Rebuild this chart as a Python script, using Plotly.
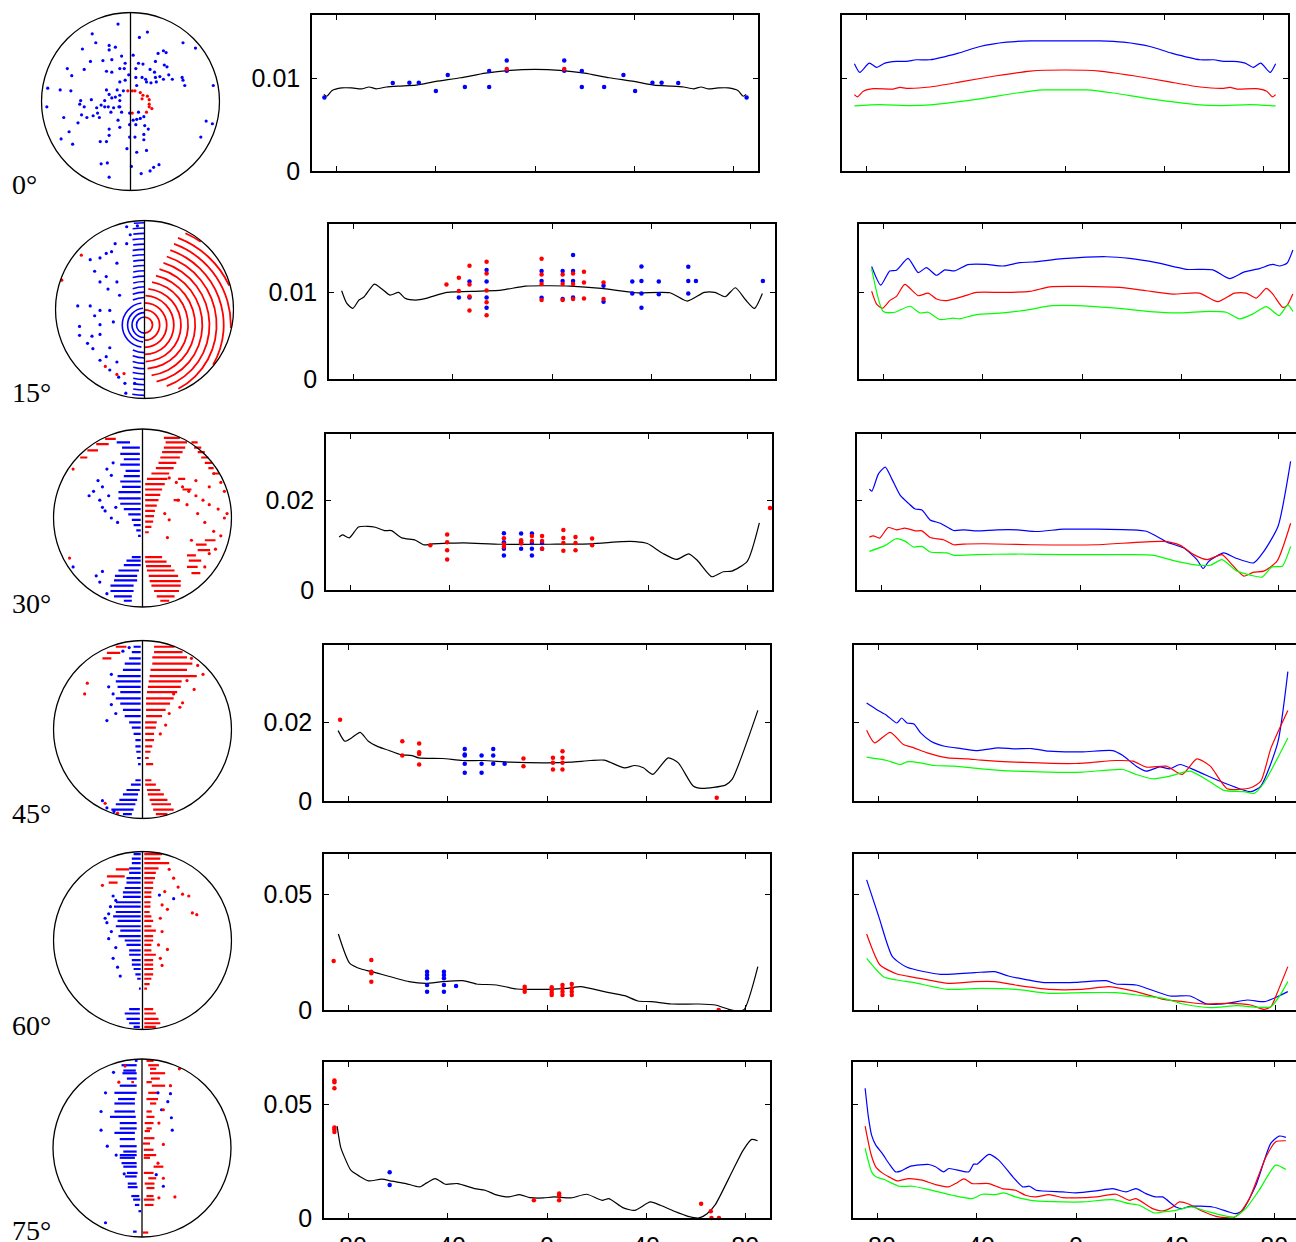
import plotly.graph_objects as go

W, H = 1296, 1242

# ---------------- tick / label values ----------------
TICKS_X = [-80, -40, 0, 40, 80]
TICK_TEXT_X = ["-80", "-40", "0", "40", "80"]
ROW_LABELS = ["0°", "15°", "30°", "45°", "60°", "75°"]
Y_MAX = [0.0169, 0.0179, 0.0347, 0.0395, 0.0674, 0.0686]
Y_TICK = [0.01, 0.01, 0.02, 0.02, 0.05, 0.05]
Y_TICK_TEXT = ["0.01", "0.01", "0.02", "0.02", "0.05", "0.05"]

# ---------------- column 2: fitted curve (black) ----------------
fit0_x = [-85.2,-84,-82,-78,-74,-70,-67,-64,-60,-55,-48,-40,-30,-20,-10,0,10,20,30,40,48,55,60,64,67,70,74,78,82,84,85.2]
fit0_y = [.0083,.0081,.0087,.0090,.0090,.0089,.0091,.0089,.0091,.0092,.0093,.0097,.0101,.0106,.0109,.0110,.0109,.0106,.0101,.0097,.0093,.0092,.0091,.0089,.0091,.0089,.0090,.0090,.0087,.0081,.0083]
fit1_x = [-84.9,-82.8,-80.4,-77.9,-75.8,-71.7,-68.9,-65.4,-61.9,-59.2,-55,-50.8,-42.5,-28.8,-20.4,-10.7,-1,7.4,19.9,33.8,47.6,54.6,61.5,65.7,69.9,74,78.2,81.7,84.9]
fit1_y = [.0102,.00873,.00815,.00912,.0095,.01096,.01046,.00969,.0100,.00931,.00912,.00931,.0100,.01015,.01027,.01073,.01077,.01073,.01046,.00996,.00996,.0090,.0100,.0100,.0095,.01054,.00912,.00815,.00988]
fit2_x = [-84.7,-83.3,-80.6,-76.9,-73.1,-70.1,-66.4,-63.6,-59.4,-53.9,-50.4,-47,-40,-34.4,-19.2,0.3,16.9,29.4,35,39.7,46,51.5,56.4,59.9,65.7,70.3,73.8,80,84.9]
fit2_y = [.01181,.01225,.01159,.01402,.01417,.01395,.01321,.01321,.01159,.01107,.01004,.01026,.01041,.01048,.01018,.01018,.01026,.01077,.01077,.01033,.00812,.00679,.00804,.00657,.00295,.00406,.00421,.00635,.01491]
fit3_x = [-84.3,-81.6,-78.9,-75.4,-72.1,-68,-64,-59.1,-54.5,-51.8,-42.2,-34.1,-25.8,-14.9,0,9.5,17.7,23.1,31.3,35.3,38.9,42.7,48.9,53,59,62.5,72,74.7,85.1]
fit3_y = [.01782,.01513,.01597,.01739,.01513,.0137,.01286,.01176,.01151,.01092,.01076,.01025,.01025,.00983,.00966,.00983,.01025,.01034,.0084,.00899,.0084,.00672,.01092,.00966,.00378,.00319,.00403,.00546,.02294]
fit4_x = [-84.2,-79.6,-74.7,-70.7,-55.7,-48.9,-42.2,-34,-28.5,-20.4,-12.2,-6.8,0,8.2,13.6,23.1,31.3,36.7,42.1,50.3,61.1,67.9,73.4,76.5,79.6,85.1]
fit4_y = [.03285,.02017,.01758,.01657,.01225,.01153,.01225,.01268,.01124,.01081,.00908,.00893,.00893,.00937,.01009,.00793,.0062,.00389,.0036,.00259,.00259,.00216,.00029,-.0004,.00029,.01873]
fit5_x = [-84.7,-83.3,-81.9,-79.2,-75.7,-72,-66.7,-62.5,-56.9,-51.4,-48.6,-45.1,-41,-36.1,-29.2,-25,-20.8,-15.3,-11.1,-6.9,-1.4,2.8,9.7,16,22.2,25,30.6,35.4,41.7,45.8,51.4,56.9,61.1,64.6,68,75,79.2,82.6,85]
fit5_y = [.04044,.03132,.02721,.02103,.01838,.01632,.01706,.01618,.01515,.01368,.01544,.01735,.01485,.01515,.01294,.01221,.01029,.00926,.01029,.00897,.00882,.00926,.00882,.01044,.00779,.00853,.00456,.00338,.00706,.00559,.00294,.00074,0,.00191,.00603,.02103,.02985,.03456,.03397]

# ---------------- column 2: measured points ----------------
pts0_blue_x = [-85.0,-57.4,-50.7,-46.9,-40.0,-35.2,-28.3,-18.5,-18.5,-11.4,-11.4,11.8,11.8,18.9,18.9,27.9,35.7,40.4,47.4,51.1,57.8,85.4]
pts0_blue_y = [.00795,.00953,.00957,.00957,.00867,.01040,.00910,.00910,.01083,.01198,.01086,.01198,.01086,.01083,.00910,.00910,.01040,.00867,.00957,.00957,.00953,.00795]
pts0_red_x = [-11.4, 11.8]
pts0_red_y = [.01104, .01104]

pts1_red_x = [-42.6,-37.6,-37.6,-33.3,-33.3,-33.3,-33.3,-26.4,-26.4,-26.4,-26.4,-26.4,-4.2,-4.2,-4.2,-4.2,4.3,4.3,4.3,8.5,8.5,8.5,12.9,12.9,12.9,20.8,20.8]
pts1_red_y = [.01092,.01169,.01015,.01308,.01092,.00954,.00792,.01354,.01219,.01023,.00885,.00735,.01388,.01208,.01096,.00912,.01208,.01096,.00912,.01219,.01096,.00923,.01238,.01115,.00931,.01115,.00923]
pts1_blue_x = [-37.6,-33.3,-33.3,-26.4,-26.4,-26.4,-26.4,-4.2,-4.2,-4.2,4.3,4.3,4.3,8.5,8.5,8.5,8.5,20.8,20.8,32.4,32.4,36.1,36.1,36.1,36.1,43.1,43.1,55,55,55,58.1,85.1]
pts1_blue_y = [.00942,.01127,.00942,.01258,.01127,.00942,.00823,.01246,.01131,.00938,.01246,.01131,.00925,.01431,.01246,.01131,.00942,.01077,.00892,.01127,.00988,.013,.01131,.00988,.00823,.01127,.0098,.01296,.01131,.00988,.01131,.01131]

pts2_red_x = [-47.9,-41.1,-41.1,-41.1,-41.1,-18.2,-18.2,-18.2,-11.25,-11.25,-6.9,-6.9,-2.8,-2.8,-2.8,5.8,5.8,5.8,5.8,10.7,10.7,10.7,17.4,17.4,89.2]
pts2_red_y = [.00996,.01232,.01063,.00886,.00679,.01151,.01018,.0096,.01107,.01033,.01203,.01092,.01203,.01092,.00915,.01336,.01159,.01048,.00871,.01181,.01048,.00886,.01144,.00996,.01823]
pts2_blue_x = [-18.2,-18.2,-18.2,-18.2,-11.25,-11.25,-11.25,-6.9,-6.9,-6.9,-6.9,-2.8,-2.8]
pts2_blue_y = [.01262,.01063,.00915,.00768,.01255,.01063,.00915,.01255,.01048,.00915,.00768,.01048,.00915]

pts3_red_x = [-83.5,-58.4,-58.4,-51.6,-51.6,-51.6,-51.6,-9.5,-9.5,2.4,2.4,2.4,6.25,6.25,6.25,6.25,68.5]
pts3_red_y = [.02059,.01513,.01151,.01454,.01235,.01193,.00924,.01076,.00882,.01092,.00966,.00798,.0126,.01092,.00966,.00798,.00084]
pts3_blue_x = [-33.2,-33.2,-33.2,-33.2,-33.2,-26.4,-26.4,-26.4,-21.7,-21.7,-21.7,-17.1]
pts3_blue_y = [.01319,.01176,.01151,.00941,.00714,.01151,.00941,.00714,.01319,.01151,.00941,.00941]

pts4_red_x = [-86.1,-70.9,-70.9,-70.9,-70.9,-9,-9,-9,1.9,1.9,1.9,1.9,6.25,6.25,6.25,6.25,10,10,10,10,69.3]
pts4_red_y = [.02118,.02161,.01657,.01585,.01225,.01009,.00893,.00793,.0098,.00865,.00749,.00648,.01081,.00937,.00793,.00648,.01124,.00937,.00793,.00648,0.0]
pts4_blue_x = [-48.4,-48.4,-48.4,-48.4,-48.4,-41.6,-41.6,-41.6,-41.6,-41.6,-36.7]
pts4_blue_y = [.01657,.01513,.01369,.01081,.00793,.01657,.01513,.01369,.01081,.00793,.01037]

pts5_red_x = [-85.8,-85.8,-85.8,-85.8,-85.8,-85.8,-5.3,4.9,4.9,4.9,62.2,66.1,66.4,69.4]
pts5_red_y = [.06044,.05971,.05706,.03985,.03897,.03779,.00779,.01074,.00985,.00779,.00632,.00294,0.0,0.0]
pts5_blue_x = [-63.5,-63.5]
pts5_blue_y = [.02015,.01456]

# ---------------- column 3: three curves ----------------
c3_0_blue_x = [-85,-82.8,-79,-76,-72.7,-68,-64,-60,-54.5,-43,-34.3,-23.6,-14,0,14,23.6,34.3,43,54.5,60,64,68,72.7,76,79,82.8,85]
c3_0_blue_y = [.01162,.01068,.01169,.01122,.01169,.01187,.01187,.01205,.01205,.01277,.01349,.01396,.0141,.0141,.0141,.01396,.01349,.01277,.01205,.01205,.01187,.01187,.01169,.01122,.01169,.01068,.01162]
c3_0_red_x = [-85,-83.8,-81.4,-77.4,-69.3,-66.6,-64,-54.5,-41,-27.6,-14,0,14,27.6,41,54.5,64,66.6,69.3,77.4,81.4,83.8,85]
c3_0_red_y = [.00827,.00802,.00863,.00892,.00888,.00906,.00896,.0091,.00971,.01032,.01083,.01094,.01083,.01032,.00971,.0091,.00896,.00906,.00888,.00892,.00863,.00802,.00827]
c3_0_green_x = [-85,-74.7,-62.6,-53,-34.3,-19.5,-8.7,0,8.7,19.5,34.3,53,62.6,74.7,85]
c3_0_green_y = [.00705,.0072,.00709,.0072,.00781,.00845,.00878,.00878,.00878,.00845,.00781,.0072,.00709,.0072,.00705]

c3_1_blue_x = [-84.9,-81.2,-77.6,-74.9,-70.2,-66.1,-62.8,-58.7,-55.4,-51.4,-46,-38.6,-31.9,-25.1,-19.8,-7.7,9.8,19.2,30,42.1,52.8,59.5,65.6,71.6,77,79.7,82.7,85.1]
c3_1_blue_y = [.013,.01084,.01248,.01256,.01393,.01229,.01286,.01198,.0126,.01248,.01321,.01324,.01305,.01344,.01351,.01389,.01412,.01393,.01344,.01267,.0126,.0116,.01237,.01275,.01324,.01305,.01336,.01489]
c3_1_red_x = [-84.9,-82.9,-80.5,-77.6,-74.9,-71.5,-66.1,-62.1,-58.7,-54.7,-48,-42.6,-31.9,-21.1,-13,0.4,15.2,25.9,36.7,47.4,54.8,61.6,66.3,70.3,74.4,77,81,82.7,85.1]
c3_1_red_y = [.01015,.00866,.00817,.00905,.00954,.01092,.00962,.00992,.00924,.00905,.00954,.01,.01,.01011,.01065,.01069,.01057,.01019,.00981,.00992,.00893,.00992,.00992,.00935,.01046,.00981,.00828,.00847,.00981]
c3_1_green_x = [-84.9,-80.2,-75.5,-69.4,-65.4,-62.1,-57.4,-52,-49.3,-42.6,-31.9,-21.1,-13,-2.3,12.5,27.3,38,51.5,58.2,63.6,69,74.4,79.6,83.1,85.1]
c3_1_green_y = [.01275,.00779,.00771,.0084,.00763,.00771,.00687,.00702,.00695,.00744,.00763,.00802,.00844,.00847,.00821,.00779,.00763,.00782,.00771,.00695,.00752,.00836,.00733,.00855,.00779]

c3_2_blue_x = [-85,-84,-81.3,-78.6,-76,-72.6,-69.2,-66.5,-63.8,-60.5,-56.4,-51,-47,-41.6,-33.5,-25.4,-17.4,-6.6,6.9,20.3,27.1,35.1,41.9,47.2,49.7,52,58,62.7,70.1,74.2,79.9,85]
c3_2_blue_y = [.02243,.02199,.02588,.02735,.02478,.0211,.01926,.01801,.01779,.01559,.01485,.01324,.01338,.01316,.01338,.01338,.01301,.01353,.01353,.01338,.01301,.01066,.00934,.00676,.00478,.0064,.00824,.00713,.00603,.0086,.01412,.0286]
c3_2_red_x = [-85,-83.4,-80.9,-77.4,-74,-70.7,-66.5,-63.8,-60.5,-55.1,-51,-47,-38.9,-20.1,6.9,33.8,40.5,45.9,51.3,57.3,60.7,66.1,70.1,74.2,79.5,85]
c3_2_red_y = [.01176,.01206,.01154,.0139,.01338,.01375,.01316,.01316,.01169,.01118,.01007,.01022,.01029,.01007,.01007,.01081,.00993,.00787,.00676,.00787,.00603,.00309,.00397,.00419,.0064,.01485]
c3_2_green_x = [-85,-78.6,-74.2,-70.5,-67.2,-63.8,-60.5,-53.8,-50.8,-41.6,-26.8,-6.6,20.3,29.7,37.8,45.9,52.6,57.3,63.4,68.8,73.5,77.5,81.6,85]
c3_2_green_y = [.0086,.00993,.0114,.01081,.00956,.00971,.00846,.00824,.00772,.00787,.00801,.00787,.00787,.00772,.00654,.00566,.00551,.00676,.00419,.00331,.00287,.00515,.00529,.00971]

c3_3_blue_x = [-84.9,-80.8,-76.8,-72.7,-70.8,-68.6,-65.8,-63.1,-59,-53.5,-46.7,-40,-31.8,-25,-18.2,-11.4,2.2,14.4,18.5,23.9,28,33.4,37.5,41.6,48.4,59.2,70.1,74.2,81,85.1]
c3_3_blue_y = [.02479,.02311,.02168,.01975,.02101,.01975,.0195,.01723,.01513,.01387,.01328,.01277,.01345,.0132,.01328,.01261,.01244,.01277,.01151,.00882,.00756,.00866,.00815,.00924,.00756,.00462,.00235,.00378,.01471,.03277]
c3_3_red_x = [-84.9,-81.7,-75.4,-70,-65.8,-60.4,-52.2,-44.1,-38.6,-25,-0.5,15.8,22.6,28,36.1,42.4,48.4,53.8,60.6,70.1,74.2,78.3,85.1]
c3_3_red_y = [.0179,.01471,.01739,.01429,.01345,.01218,.01092,.01067,.01034,.00983,.0095,.01025,.01008,.00857,.00882,.00672,.01067,.00882,.00311,.00336,.00504,.01345,.02294]
c3_3_green_x = [-84.9,-76.8,-71.3,-68.6,-63.1,-57.7,-49.5,-38.6,-25,-11.4,2.2,18.5,23.9,30.7,37.5,45.7,53.8,59.2,67.4,71.5,75.5,85.1]
c3_3_green_y = [.01109,.01025,.00924,.00992,.00966,.00899,.00882,.00815,.00756,.00731,.00731,.00798,.00672,.00563,.0063,.00756,.00479,.00269,.00235,.00193,.00462,.01597]

c3_4_blue_x = [-84.9,-80,-74.5,-68.6,-55,-41.3,-33.2,-27.7,-14.1,-0.5,11.7,15.8,23.9,37.5,45.7,52.4,60.6,68.8,75.5,81,85.1]
c3_4_blue_y = [.0562,.04035,.02305,.01844,.01542,.01614,.01657,.0147,.01196,.01196,.01268,.01124,.01081,.00605,.00605,.00259,.00288,.00432,.0036,.00576,.00793]
c3_4_red_x = [-84.9,-79.5,-72.7,-65.8,-52.2,-41.3,-33.2,-25,-11.4,2.2,13,23.9,34.8,42.9,51.1,60.6,70.1,75.5,78.3,81,85.1]
c3_4_red_y = [.03285,.01945,.01556,.01412,.01153,.01225,.01225,.01081,.00893,.00893,.01009,.00793,.00461,.0036,.00259,.00288,.00216,.00029,.00144,.00793,.01873]
c3_4_green_x = [-84.9,-78.1,-72.7,-65.8,-52.2,-38.6,-25,-11.4,2.2,15.8,23.9,34.8,42.9,53.8,64.7,72.8,78.3,82.4,85.1]
c3_4_green_y = [.02233,.01441,.01297,.01182,.00893,.00937,.00893,.0072,.00749,.00749,.00648,.00504,.00259,.00101,.00187,.00115,.00144,.0072,.01225]

c3_5_blue_x = [-85.1,-83.8,-82.5,-80.8,-78.2,-75.5,-72.8,-70.8,-66.7,-59.4,-56.7,-53.4,-51.3,-43.3,-41.3,-39.9,-35.2,-31.2,-25.5,-21.5,-18.8,-16.1,-5.4,0,8.1,14.8,20.2,24.2,28.2,32.3,35,40.3,43,45.7,55.1,61.8,64.5,67.2,72.6,78.6,82,84.7]
c3_5_blue_y = [.05706,.04456,.03647,.03206,.02838,.02397,.02029,.02059,.02279,.02353,.0225,.02029,.02176,.02029,.02368,.02368,.02794,.02544,.01809,.01368,.01397,.01221,.01147,.01103,.01191,.01294,.01147,.01294,.01074,.00926,.00926,.00485,.00412,.00515,.00485,.00265,.00191,.00338,.01441,.03279,.03603,.03544]
c3_5_red_x = [-85.1,-82.8,-80.8,-78.2,-75.5,-72.2,-67.5,-62.1,-56.7,-51.3,-48.6,-45.2,-41.9,-35.2,-29.8,-24.4,-20.4,-16.4,-10.9,-5.4,0,8.1,16.1,21.5,24.2,30.9,35,39,41.7,45.7,51.1,56.5,63.2,65.9,70,76.7,80.6,84.7]
c3_5_red_y = [.04044,.02838,.0225,.01985,.01809,.01632,.01735,.01662,.01471,.01368,.01515,.01721,.01515,.01515,.01294,.01221,.01,.00926,.01029,.00897,.00882,.00926,.01044,.00779,.00853,.00412,.00309,.00485,.00706,.00603,.00294,.00074,0,.00191,.00853,.02691,.03353,.03397]
c3_5_green_x = [-85.1,-82.5,-80.8,-77.4,-71.4,-66,-59.4,-49.9,-41.9,-37.8,-32.5,-29.1,-24.4,-21.8,-16.4,-5.4,2.7,14.8,21.5,25.5,31.6,35,40.3,46.4,52.4,59.1,63.8,68.5,73.9,80.6,84.7]
c3_5_green_y = [.03059,.02029,.01809,.01691,.01397,.01397,.0125,.01,.00853,.01044,.01029,.01103,.00926,.00853,.0075,.00706,.00706,.00809,.00632,.00559,.00221,.00265,.00338,.00485,.00309,.00118,.00044,.00412,.01221,.02324,.02132]

# ---------------- column 1: pole figures (unit-circle coordinates) ----------------
p0_blue_x = [-0.14,0.19,-0.43,0.10,-0.39,0.59,0.73,-0.24,-0.17,-0.54,
             -0.24,0.37,0.40,-0.10,0.03,0.31,-0.45,-0.21,-0.31,-0.06,
             0.09,0.14,0.28,0.38,-0.71,-0.52,-0.27,-0.12,-0.21,-0.07,
             0.06,0.22,0.27,0.41,0.43,-0.66,-0.02,0.06,0.13,0.17,
             0.28,0.33,0.37,0.47,0.58,0.59,-0.12,-0.06,0.18,0.23,
             0.29,0.61,0.93,-0.93,-0.79,-0.67,-0.27,-0.15,-0.24,0.07,
             -0.21,-0.17,-0.29,-0.56,-0.44,-0.57,-0.52,-0.29,-0.25,-0.19,
             -0.13,-0.33,-0.38,-0.55,-0.49,-0.42,-0.37,-0.22,-0.01,0.09,
             0.15,-0.94,-0.75,-0.59,-0.35,-0.14,0.03,0.07,0.11,-0.12,
             -0.01,0.06,0.16,0.20,0.85,0.92,-0.69,-0.78,-0.65,-0.24,
             -0.24,-0.01,0.05,0.15,-0.34,-0.27,0.15,0.79,-0.04,0.07,
             0.18,-0.33,-0.26,0.01,-0.24,0.12,0.22,0.26,0.32,-0.12,
             -0.12,-0.12,-0.10,-0.08]
p0_blue_y = [0.87,0.78,0.76,0.72,0.66,0.66,0.60,0.63,0.61,0.59,
             0.58,0.57,0.55,0.51,0.52,0.54,0.45,0.47,0.46,0.43,
             0.43,0.42,0.45,0.41,0.37,0.36,0.34,0.37,0.33,0.37,
             0.37,0.36,0.33,0.39,0.30,0.29,0.30,0.27,0.27,0.25,
             0.27,0.28,0.25,0.25,0.27,0.24,0.22,0.24,0.22,0.21,
             0.22,0.18,0.18,0.15,0.13,0.12,0.13,0.13,0.08,0.18,
             0.04,0.05,0.01,0.01,0.02,-0.03,-0.06,-0.06,-0.06,-0.07,
             -0.06,-0.04,-0.07,-0.15,-0.18,-0.16,-0.13,-0.12,-0.13,-0.12,
             -0.17,-0.06,-0.18,-0.24,-0.18,-0.21,-0.21,-0.20,-0.19,-0.29,
             -0.26,-0.26,-0.27,-0.31,-0.22,-0.25,-0.34,-0.42,-0.48,-0.31,
             -0.38,-0.40,-0.40,-0.37,-0.45,-0.45,-0.43,-0.40,-0.53,-0.57,
             -0.55,-0.70,-0.69,-0.73,-0.85,-0.81,-0.78,-0.74,-0.71,0.07,
             0.01,-0.06,-0.12,0.12]
p0_red_x = [-0.03,0.02,0.05,0.11,0.14,0.13,0.19,0.21,0.21,0.21,0.24,0.18,0.02]
p0_red_y = [0.12,0.12,0.12,0.10,0.07,0.03,0.06,0.02,-0.03,-0.06,-0.08,-0.12,-0.13]

# 15 deg: arcs around the tilted pole (radius, start angle, end angle)
P1_POLE = (0.0, -0.175)
arc1_red_rho = [0.09,0.17,0.25,0.33,0.41,0.49,0.57,0.65,0.73,0.81,0.89,0.97,1.05,1.13]
arc1_red_t0 = [-90,-90,-90,-90,-88,-86,-82,-78,-70,-62,-30,-2,25,56]
arc1_red_t1 = [90,90,90,88,84,80,77,75,73,72,71,70,69,66]
arc1_blue_rho = [0.09,0.14,0.19,0.25,0.31,0.37,0.43,0.49,0.55,0.61,0.67,0.73,0.79,0.85,0.91,0.97,1.03,1.09,1.15,
                 0.31,0.37,0.43,0.49,0.55,0.61,0.67,0.73,0.79]
arc1_blue_t0 = [90,92,95,98,90,90,90,90,90,90,90,90,90,90,90,90,90,90,90,
                245,249,252,255,256,258,259,260,260]
arc1_blue_t1 = [270,268,265,262,115,111,108,105,104,102,101,100,100,99,98,98,97,97,96,
                270,270,270,270,270,270,270,270,270]
p1_blue_x = [-0.20,-0.08,-0.16,-0.33,-0.20,-0.43,-0.37,-0.61,-0.50,-0.31,-0.56,-0.43,-0.50,-0.31,-0.41,-0.28,-0.75,-0.61,-0.50,-0.39,
             -0.56,-0.73,-0.35,-0.50,-0.73,-0.59,-0.50,-0.64,-0.58,-0.39,-0.43,-0.50,-0.31,-0.39,-0.29,-0.22,-0.11,-0.21]
p1_blue_y = [0.93,0.94,0.84,0.74,0.74,0.63,0.65,0.56,0.58,0.52,0.43,0.37,0.31,0.31,0.23,0.16,0.04,0.04,-0.01,-0.01,
             -0.07,-0.19,-0.14,-0.17,-0.29,-0.30,-0.28,-0.38,-0.44,-0.43,-0.53,-0.57,-0.59,-0.68,-0.76,-0.83,-0.83,-0.94]
p1_red_x = [-0.93,-0.71,-0.44,-0.31,-0.23]
p1_red_y = [0.33,0.61,-0.64,-0.73,-0.72]

# 30-75 deg: dash rows (y, x_start, x_end) and isolated points
seg2_red = [(0.90,0.24,0.42),(0.85,0.26,0.50),(0.85,0.55,0.62),(0.79,0.24,0.48),(0.79,0.58,0.66),(0.74,0.22,0.45),(0.74,0.62,0.70),
            (0.68,0.20,0.42),(0.68,0.66,0.74),(0.62,0.18,0.38),(0.62,0.70,0.78),(0.56,0.15,0.35),(0.56,0.74,0.80),(0.50,0.10,0.30),(0.50,0.80,0.86),
            (0.44,0.05,0.28),(0.44,0.40,0.48),(0.38,0.03,0.25),(0.32,0.03,0.22),(0.32,0.45,0.55),(0.26,0.03,0.20),(0.20,0.03,0.18),
            (0.20,0.35,0.42),(0.14,0.03,0.16),(0.08,0.03,0.14),(0.02,0.03,0.13),(-0.04,0.03,0.12),(-0.10,0.03,0.10),(-0.16,0.03,0.07),
            (-0.44,0.03,0.22),(-0.49,0.03,0.27),(-0.54,0.04,0.32),(-0.59,0.05,0.36),(-0.65,0.07,0.40),(-0.71,0.08,0.43),(-0.76,0.10,0.43),
            (-0.82,0.13,0.41),(-0.88,0.16,0.36),(-0.93,0.20,0.30),(-0.30,0.60,0.72),(-0.36,0.62,0.76),(-0.42,0.50,0.60),(-0.48,0.52,0.66),
            (-0.55,0.50,0.62),(-0.62,0.55,0.65),(-0.25,0.70,0.82),(0.89,-0.42,-0.30),(0.83,-0.52,-0.38),(0.76,-0.62,-0.50),(0.68,-0.70,-0.62)]
seg2_blue = [(0.85,-0.29,-0.14),(0.79,-0.23,-0.03),(0.72,-0.25,-0.03),(0.66,-0.21,-0.03),(0.60,-0.25,-0.03),(0.53,-0.19,-0.03),
             (0.47,-0.21,-0.03),(0.41,-0.25,-0.02),(0.35,-0.23,-0.02),(0.29,-0.27,-0.02),(0.22,-0.27,-0.02),(0.16,-0.25,-0.02),
             (0.10,-0.21,-0.02),(0.04,-0.16,-0.02),(-0.02,-0.12,-0.02),(-0.08,-0.10,-0.02),(-0.14,-0.07,-0.02),(-0.20,-0.05,-0.02),
             (-0.44,-0.12,-0.02),(-0.48,-0.18,-0.02),(-0.53,-0.21,-0.02),(-0.59,-0.27,-0.04),(-0.65,-0.31,-0.06),(-0.70,-0.32,-0.06),
             (-0.76,-0.36,-0.10),(-0.82,-0.36,-0.10),(-0.88,-0.32,-0.12),(-0.93,-0.21,-0.12)]
p2_red_x = [0.30,0.38,0.45,0.52,0.60,0.68,0.75,0.85,0.92,0.95,0.40,0.50,0.25,0.30,0.62,0.70,0.80,0.88,0.28,0.55,0.88,0.92,0.80,0.75,0.60,-0.78,-0.82,0.70,0.75,0.82]
p2_red_y = [0.45,0.40,0.35,0.30,0.25,0.20,0.15,0.10,0.00,0.05,0.20,0.15,0.05,-0.02,0.05,-0.05,-0.15,-0.20,-0.22,-0.25,0.40,0.30,0.50,0.35,0.42,0.55,-0.45,-0.55,-0.40,-0.35]
p2_blue_x = [-0.40,-0.35,-0.45,-0.55,-0.38,-0.48,-0.30,-0.42,-0.35,-0.28,-0.50,-0.33,-0.60,-0.45,-0.45,-0.48,-0.40,-0.78,-0.52]
p2_blue_y = [0.55,0.48,0.35,0.30,0.25,0.20,0.12,0.08,0.00,-0.05,0.42,0.62,0.25,0.12,-0.60,-0.72,-0.85,-0.55,-0.65]

seg3_red = [(0.93,0.13,0.36),(0.87,0.13,0.45),(0.81,0.11,0.50),(0.74,0.11,0.56),(0.67,0.09,0.50),(0.60,0.08,0.61),(0.54,0.07,0.44),
            (0.48,0.06,0.43),(0.42,0.05,0.39),(0.35,0.04,0.35),(0.29,0.04,0.31),(0.22,0.04,0.26),(0.15,0.04,0.22),(0.08,0.03,0.16),
            (0.02,0.03,0.15),(-0.05,0.03,0.13),(-0.12,0.03,0.13),(-0.19,0.03,0.11),(-0.25,0.03,0.09),(-0.32,0.03,0.07),(-0.39,0.04,0.12),
            (0.93,-0.30,-0.18),(0.86,-0.40,-0.25),(0.80,-0.45,-0.35),
            (-0.57,0.03,0.10),(-0.62,0.03,0.15),(-0.68,0.05,0.20),(-0.73,0.06,0.24),(-0.79,0.08,0.28),(-0.84,0.10,0.32),(-0.90,0.12,0.35),(-0.95,0.15,0.28)]
seg3_blue = [(0.93,-0.10,-0.02),(0.87,-0.12,-0.02),(0.80,-0.15,-0.02),(0.74,-0.20,-0.02),(0.67,-0.22,-0.02),(0.60,-0.28,-0.02),(0.54,-0.30,-0.02),
             (0.48,-0.28,-0.02),(0.42,-0.25,-0.02),(0.35,-0.30,-0.02),(0.29,-0.25,-0.02),(0.22,-0.22,-0.02),(0.15,-0.20,-0.02),(0.08,-0.15,-0.02),
             (0.02,-0.12,-0.02),(-0.05,-0.10,-0.02),(-0.12,-0.08,-0.02),(-0.19,-0.08,-0.02),(-0.25,-0.07,-0.02),(-0.32,-0.06,-0.02),(-0.39,-0.05,-0.02),
             (-0.57,-0.08,-0.02),(-0.62,-0.13,-0.02),(-0.68,-0.18,-0.03),(-0.73,-0.22,-0.05),(-0.79,-0.26,-0.06),(-0.84,-0.30,-0.08),(-0.90,-0.35,-0.10),(-0.95,-0.22,-0.12)]
p3_red_x = [0.55,0.62,0.68,0.42,0.35,0.45,0.50,0.58,0.30,-0.62,-0.65,-0.42,-0.28,0.26,0.20]
p3_red_y = [0.80,0.72,0.62,0.25,0.40,0.30,0.55,0.45,0.18,0.52,0.40,-0.83,-0.94,0.05,-0.05]
p3_blue_x = [-0.35,-0.38,-0.33,-0.30,-0.35,-0.22,-0.15,-0.45,-0.40,-0.32,-0.40]
p3_blue_y = [0.62,0.48,0.40,0.18,0.28,0.88,0.92,-0.80,-0.88,-0.92,0.10]

seg4_blue = [(0.97,-0.10,-0.02),(0.92,-0.12,-0.02),(0.87,-0.12,-0.02),(0.81,-0.15,-0.02),(0.76,-0.15,-0.02),(0.70,-0.18,-0.02),(0.65,-0.18,-0.02),
             (0.59,-0.20,-0.02),(0.54,-0.22,-0.02),(0.49,-0.22,-0.02),(0.43,-0.30,-0.02),(0.38,-0.32,-0.02),(0.32,-0.30,-0.02),(0.27,-0.33,-0.02),
             (0.22,-0.28,-0.02),(0.16,-0.30,-0.02),(0.11,-0.25,-0.02),(0.05,-0.27,-0.02),(0.00,-0.20,-0.02),(-0.05,-0.18,-0.02),(-0.11,-0.15,-0.02),
             (-0.16,-0.15,-0.02),(-0.22,-0.12,-0.02),(-0.27,-0.12,-0.02),(-0.32,-0.10,-0.02),(-0.38,-0.08,-0.02),(-0.43,-0.06,-0.02),(-0.54,-0.04,-0.02),
             (-0.77,-0.15,-0.03),(-0.82,-0.20,-0.03),(-0.88,-0.18,-0.03),(-0.93,-0.15,-0.03),(-0.97,-0.10,-0.03)]
seg4_red = [(0.97,0.02,0.22),(0.92,0.02,0.20),(0.87,0.02,0.30),(0.81,0.02,0.18),(0.76,0.02,0.15),(0.70,0.02,0.14),(0.65,0.02,0.12),
            (0.59,0.02,0.12),(0.54,0.02,0.10),(0.49,0.02,0.10),(0.43,0.02,0.09),(0.38,0.02,0.09),(0.32,0.02,0.08),(0.27,0.02,0.10),
            (0.22,0.02,0.12),(0.16,0.02,0.10),(0.11,0.02,0.15),(0.05,0.02,0.12),(0.00,0.02,0.12),(-0.05,0.02,0.10),(-0.11,0.02,0.10),
            (-0.16,0.02,0.15),(-0.22,0.02,0.12),(-0.27,0.02,0.12),(-0.32,0.02,0.12),(-0.38,0.02,0.12),(-0.43,0.02,0.10),(-0.49,0.02,0.08),
            (-0.54,0.02,0.05),(-0.77,0.02,0.12),(-0.82,0.02,0.15),(-0.88,0.02,0.18),(-0.93,0.02,0.20),(-0.97,0.02,0.15),
            (0.80,-0.30,-0.15),(0.72,-0.40,-0.20),(0.65,-0.38,-0.28)]
p4_red_x = [0.45,0.52,0.40,0.35,0.30,0.25,0.22,0.28,0.20,0.22,0.18,0.20,0.28,0.22,0.56,0.61,-0.45]
p4_red_y = [0.52,0.50,0.60,0.70,0.80,0.55,0.40,0.35,0.25,0.10,-0.05,-0.20,-0.10,-0.28,0.31,0.29,0.62]
p4_blue_x = [-0.38,-0.40,-0.35,-0.38,-0.30,-0.33,-0.28,-0.36,-0.30,-0.25,-0.42,-0.33,0.35,0.19]
p4_blue_y = [0.30,0.20,0.10,0.02,-0.08,-0.20,-0.30,0.38,0.45,-0.40,0.25,0.50,0.47,0.51]

seg5_blue = [(0.98,-0.08,-0.05),(0.93,-0.23,-0.06),(0.87,-0.21,-0.07),(0.84,-0.22,-0.06),(0.78,-0.17,-0.06),(0.70,-0.25,-0.06),(0.62,-0.31,-0.06),
             (0.55,-0.27,-0.08),(0.50,-0.31,-0.08),(0.41,-0.31,-0.08),(0.35,-0.36,-0.07),(0.28,-0.25,-0.06),(0.22,-0.25,-0.06),(0.17,-0.31,-0.08),
             (0.10,-0.25,-0.08),(0.02,-0.25,-0.06),(-0.04,-0.21,-0.06),(-0.08,-0.25,-0.06),(-0.11,-0.25,-0.08),(-0.17,-0.23,-0.06),(-0.21,-0.21,-0.06),
             (-0.28,-0.17,-0.05),(-0.32,-0.19,-0.06),(-0.40,-0.16,-0.06),(-0.44,-0.16,-0.05),(-0.54,-0.12,-0.03),(-0.58,-0.10,-0.02),(-0.64,-0.08,-0.03),
             (-0.71,-0.04,-0.01),(-0.94,-0.10,-0.06)]
seg5_red = [(0.98,0.05,0.13),(0.93,0.07,0.19),(0.89,0.09,0.16),(0.84,0.09,0.26),(0.78,0.10,0.20),(0.74,0.05,0.11),(0.70,0.11,0.26),
            (0.62,0.07,0.19),(0.55,0.05,0.18),(0.50,0.09,0.16),(0.41,0.05,0.11),(0.35,0.05,0.14),(0.28,0.03,0.13),(0.22,0.05,0.11),
            (0.19,0.03,0.09),(0.11,0.02,0.14),(0.05,0.01,0.09),(-0.02,0.02,0.13),(-0.08,0.02,0.16),(-0.11,0.02,0.09),(-0.21,0.13,0.24),
            (-0.28,0.02,0.13),(-0.34,0.07,0.16),(-0.40,0.03,0.14),(-0.45,0.05,0.14),(-0.54,0.05,0.13),(-0.58,0.02,0.14),(-0.64,0.03,0.13),
            (-0.95,0.01,0.07),(0.74,-0.12,-0.09)]
p5_red_x = [0.42,0.32,0.24,0.19,0.24,0.18,0.24,0.37,0.19,-0.26,-0.19]
p5_red_y = [0.89,0.70,0.43,0.28,0.04,-0.17,-0.34,-0.55,-0.56,0.74,0.92]
p5_blue_x = [-0.32,-0.41,-0.46,-0.46,-0.39,-0.29,-0.20,-0.41,0.29,0.33,0.22,0.24,0.18,0.32,0.34,0.16]
p5_blue_y = [0.85,0.62,0.41,0.20,0.02,-0.08,-0.29,-0.84,0.52,0.34,0.43,-0.43,0.62,0.61,0.20,-0.30]

# ---------------- layout geometry (pixels) ----------------
POLE_C = [(130.5, 101.5), (144.5, 309.5), (142.5, 518), (142.5, 729.5), (142.5, 940.5), (142, 1148)]
R_PX = 89.0
BOX_Y = [(15, 171), (224, 379), (434, 590), (645, 801), (854, 1010), (1062, 1218)]
COL2_X = [312, 329, 326, 324, 324, 324]
COL3_X = [842, 859, 857, 854, 854, 853]
BOX_W = 446
LABEL_Y = [184, 392, 604, 813, 1025, 1230]

BLUE, RED, GREEN = "#0000ff", "#ff0000", "#00ff00"
FONT = "Liberation Sans, Arial, Helvetica, sans-serif"

FITS = [(fit0_x, fit0_y), (fit1_x, fit1_y), (fit2_x, fit2_y), (fit3_x, fit3_y), (fit4_x, fit4_y), (fit5_x, fit5_y)]
PTS = [((pts0_blue_x, pts0_blue_y), (pts0_red_x, pts0_red_y)),
       ((pts1_blue_x, pts1_blue_y), (pts1_red_x, pts1_red_y)),
       ((pts2_blue_x, pts2_blue_y), (pts2_red_x, pts2_red_y)),
       ((pts3_blue_x, pts3_blue_y), (pts3_red_x, pts3_red_y)),
       ((pts4_blue_x, pts4_blue_y), (pts4_red_x, pts4_red_y)),
       ((pts5_blue_x, pts5_blue_y), (pts5_red_x, pts5_red_y))]
C3 = [((c3_0_blue_x, c3_0_blue_y), (c3_0_red_x, c3_0_red_y), (c3_0_green_x, c3_0_green_y)),
      ((c3_1_blue_x, c3_1_blue_y), (c3_1_red_x, c3_1_red_y), (c3_1_green_x, c3_1_green_y)),
      ((c3_2_blue_x, c3_2_blue_y), (c3_2_red_x, c3_2_red_y), (c3_2_green_x, c3_2_green_y)),
      ((c3_3_blue_x, c3_3_blue_y), (c3_3_red_x, c3_3_red_y), (c3_3_green_x, c3_3_green_y)),
      ((c3_4_blue_x, c3_4_blue_y), (c3_4_red_x, c3_4_red_y), (c3_4_green_x, c3_4_green_y)),
      ((c3_5_blue_x, c3_5_blue_y), (c3_5_red_x, c3_5_red_y), (c3_5_green_x, c3_5_green_y))]
POLE_PTS = [((p0_blue_x, p0_blue_y), (p0_red_x, p0_red_y)),
            ((p1_blue_x, p1_blue_y), (p1_red_x, p1_red_y)),
            ((p2_blue_x, p2_blue_y), (p2_red_x, p2_red_y)),
            ((p3_blue_x, p3_blue_y), (p3_red_x, p3_red_y)),
            ((p4_blue_x, p4_blue_y), (p4_red_x, p4_red_y)),
            ((p5_blue_x, p5_blue_y), (p5_red_x, p5_red_y))]
POLE_SEGS = [None, None, (seg2_blue, seg2_red), (seg3_blue, seg3_red), (seg4_blue, seg4_red), (seg5_blue, seg5_red)]


def ax_name(k, a):
    return f"{a}axis" if k == 1 else f"{a}axis{k}"


def ax_ref(k, a):
    return a if k == 1 else f"{a}{k}"


def xdom(p0, p1):
    return [max(p0, 0) / W, min(p1, W) / W]


def ydom(p0, p1):
    return [1 - p1 / H, 1 - p0 / H]


def seg_xy(segs):
    xs, ys = [], []
    for y, x0, x1 in segs:
        xs += [x0, x1, None]
        ys += [y, y, None]
    return xs, ys


fig = go.Figure()
layout = dict(width=W, height=H, margin=dict(l=0, r=0, t=0, b=0, autoexpand=False), paper_bgcolor="white",
              plot_bgcolor="rgba(0,0,0,0)", showlegend=False, hovermode=False,
              font=dict(family=FONT, size=25, color="black"))
shapes, annotations = [], []

for i in range(6):
    kp, k2, k3 = 3 * i + 1, 3 * i + 2, 3 * i + 3
    cx, cy = POLE_C[i]
    half = 90.0
    rng = half / R_PX
    layout[ax_name(kp, "x")] = dict(domain=xdom(cx - half, cx + half), range=[-rng, rng], visible=False, fixedrange=True)
    layout[ax_name(kp, "y")] = dict(domain=ydom(cy - half, cy + half), range=[-rng, rng], visible=False, fixedrange=True)
    xr, yr = ax_ref(kp, "x"), ax_ref(kp, "y")

    # pole figure content
    if POLE_SEGS[i] is not None:
        for segs, col in zip(POLE_SEGS[i], (BLUE, RED)):
            sx, sy = seg_xy(segs)
            fig.add_trace(go.Scatter(x=sx, y=sy, mode="lines", line=dict(color=col, width=2.2),
                                     xaxis=xr, yaxis=yr, hoverinfo="skip"))
    for (px, py), col in zip(POLE_PTS[i], (BLUE, RED)):
        fig.add_trace(go.Scatter(x=px, y=py, mode="markers", marker=dict(color=col, size=3.2, line=dict(width=0)),
                                 xaxis=xr, yaxis=yr, hoverinfo="skip"))
    shapes.append(dict(type="circle", xref=xr, yref=yr, x0=-1, y0=-1, x1=1, y1=1,
                       line=dict(color="black", width=1.3)))
    shapes.append(dict(type="line", xref=xr, yref=yr, x0=0, y0=-1, x1=0, y1=1,
                       line=dict(color="black", width=1.3)))
    annotations.append(dict(text=ROW_LABELS[i], x=10 / W, y=1 - LABEL_Y[i] / H, xref="paper", yref="paper",
                            xanchor="left", yanchor="middle", showarrow=False,
                            font=dict(family="Liberation Serif, Times New Roman, serif", size=28, color="black")))

    # column 2 axes
    by0, by1 = BOX_Y[i]
    last = (i == 5)
    xcommon = dict(tickvals=TICKS_X, ticktext=TICK_TEXT_X, ticks="inside", ticklen=5, tickwidth=1, tickcolor="black",
                   showline=True, linecolor="black", linewidth=1.5, showgrid=False, zeroline=False,
                   showticklabels=last, ticklabelstandoff=5, fixedrange=True)
    ycommon = dict(range=[0, Y_MAX[i]], tickvals=[0, Y_TICK[i]], ticktext=["0", Y_TICK_TEXT[i]], ticks="inside",
                   ticklen=5, tickwidth=1, tickcolor="black", showline=True, linecolor="black", linewidth=1.5,
                   showgrid=False, zeroline=False, fixedrange=True)
    x0 = COL2_X[i]
    layout[ax_name(k2, "x")] = dict(domain=xdom(x0, x0 + BOX_W), range=[-90, 90], mirror="ticks",
                                    anchor=ax_ref(k2, "y"), **xcommon)
    layout[ax_name(k2, "y")] = dict(domain=ydom(by0, by1), mirror="ticks", anchor=ax_ref(k2, "x"),
                                    showticklabels=True, ticklabelstandoff=5, **ycommon)
    x2r, y2r = ax_ref(k2, "x"), ax_ref(k2, "y")
    fx, fy = FITS[i]
    fig.add_trace(go.Scatter(x=fx, y=fy, mode="lines", line=dict(color="black", width=1.2, shape="spline", smoothing=0.6),
                             xaxis=x2r, yaxis=y2r, hoverinfo="skip"))
    for (px, py), col in zip(PTS[i], (BLUE, RED)):
        fig.add_trace(go.Scatter(x=px, y=py, mode="markers", marker=dict(color=col, size=4.5, line=dict(width=0)),
                                 xaxis=x2r, yaxis=y2r, cliponaxis=False, hoverinfo="skip"))

    # column 3 axes (may be cut by the figure edge)
    x0 = COL3_X[i]
    x1 = min(x0 + BOX_W, W)
    clipped = (x0 + BOX_W) > W
    xmax = -90 + (x1 - x0) / BOX_W * 180
    layout[ax_name(k3, "x")] = dict(domain=xdom(x0, x1), range=[-90, xmax], mirror="ticks",
                                    anchor=ax_ref(k3, "y"), **xcommon)
    layout[ax_name(k3, "y")] = dict(domain=ydom(by0, by1), mirror=(False if clipped else "ticks"),
                                    anchor=ax_ref(k3, "x"), showticklabels=False, **ycommon)
    x3r, y3r = ax_ref(k3, "x"), ax_ref(k3, "y")
    for (lx, ly), col in zip(C3[i], (BLUE, RED, GREEN)):
        fig.add_trace(go.Scatter(x=lx, y=ly, mode="lines", line=dict(color=col, width=1.2, shape="spline", smoothing=0.6),
                                 xaxis=x3r, yaxis=y3r, hoverinfo="skip"))

# 15 deg pole figure arcs (polar subplot centred on the tilted pole)
R_MAX = 1.2
pcx = POLE_C[1][0] + P1_POLE[0] * R_PX
pcy = POLE_C[1][1] - P1_POLE[1] * R_PX
ph = R_MAX * R_PX
layout["polar"] = dict(domain=dict(x=[(pcx - ph) / W, (pcx + ph) / W], y=[1 - (pcy + ph) / H, 1 - (pcy - ph) / H]),
                       bgcolor="rgba(0,0,0,0)", hole=0,
                       radialaxis=dict(visible=False, range=[0, R_MAX], showgrid=False),
                       angularaxis=dict(visible=False, showgrid=False, direction="counterclockwise", rotation=0))
for rho, t0, t1, col, thick in ((arc1_blue_rho, arc1_blue_t0, arc1_blue_t1, BLUE, 0.018),
                                (arc1_red_rho, arc1_red_t0, arc1_red_t1, RED, 0.02)):
    fig.add_trace(go.Barpolar(r=[thick] * len(rho), base=[r - thick / 2 for r in rho],
                              theta=[(a + b) / 2 for a, b in zip(t0, t1)], width=[b - a for a, b in zip(t0, t1)],
                              marker=dict(color=col, line=dict(width=0)), subplot="polar", hoverinfo="skip"))

layout["shapes"] = shapes
layout["annotations"] = annotations
fig.update_layout(**layout)
fig.write_html("out.html")
